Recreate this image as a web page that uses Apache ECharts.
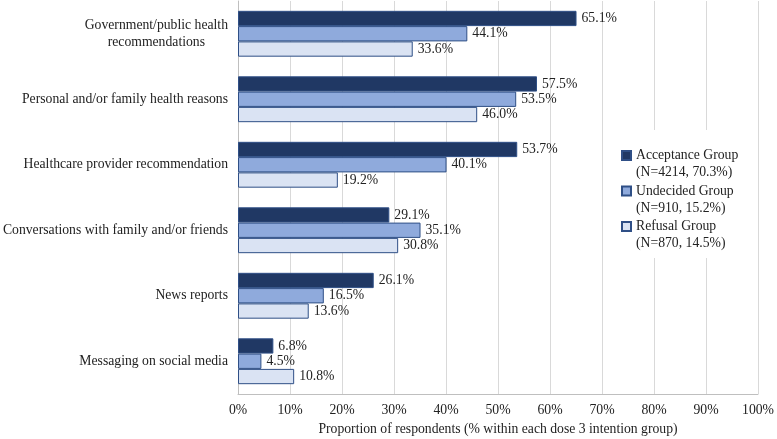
<!DOCTYPE html>
<html>
<head>
<meta charset="utf-8">
<script src="https://cdn.jsdelivr.net/npm/echarts@6/dist/echarts.min.js"></script>
<style>
html,body{margin:0;padding:0;background:#fff;}
#chart{width:777px;height:439px;}
</style>
</head>
<body>
<div id="chart"></div>
<script>
const categories = [
  'Government/public health\nrecommendations',
  'Personal and/or family health reasons',
  'Healthcare provider recommendation',
  'Conversations with family and/or friends',
  'News reports',
  'Messaging on social media'
];
const seriesNames = [
  'Acceptance Group\n(N=4214, 70.3%)',
  'Undecided Group\n(N=910, 15.2%)',
  'Refusal Group\n(N=870, 14.5%)'
];
const acceptance = [65.1, 57.5, 53.7, 29.1, 26.1, 6.8];
const undecided  = [44.1, 53.5, 40.1, 35.1, 16.5, 4.5];
const refusal    = [33.6, 46.0, 19.2, 30.8, 13.6, 10.8];
const xTicks = [0, 10, 20, 30, 40, 50, 60, 70, 80, 90, 100];
const xTitle = 'Proportion of respondents (% within each dose 3 intention group)';

const FONT = 'Liberation Serif, Times New Roman, serif';
const FS = 13.7;
const colors = ['#203864', '#8faadc', '#dae3f3'];
const values = [acceptance, undecided, refusal];

const chart = echarts.init(document.getElementById('chart'), null, {renderer: 'canvas'});
chart.setOption({
  animation: false,
  backgroundColor: '#fff',
  grid: {left: 238, right: 19, top: 1, bottom: 45, containLabel: false, outerBoundsMode: 'none'},
  legend: {
    orient: 'vertical',
    left: 613,
    top: 130,
    backgroundColor: '#fff',
    padding: [0, 4, 6, 8],
    itemWidth: 9,
    itemHeight: 9,
    itemGap: -15.5,
    icon: 'rect',
    formatter: function (name) { return ' \n' + name; },
    textStyle: {fontFamily: FONT, fontSize: FS, color: '#222', lineHeight: 17},
    data: seriesNames
  },
  xAxis: {
    type: 'value',
    min: xTicks[0],
    max: xTicks[xTicks.length - 1],
    interval: xTicks[1] - xTicks[0],
    axisLine: {show: true, lineStyle: {color: '#bfbfbf', width: 1}},
    axisTick: {show: false},
    splitLine: {show: true, lineStyle: {color: '#d9d9d9', width: 1}},
    axisLabel: {formatter: '{value}%', fontFamily: FONT, fontSize: FS, color: '#222', margin: 9},
    name: xTitle,
    nameLocation: 'middle',
    nameGap: 27,
    nameTextStyle: {fontFamily: FONT, fontSize: FS, color: '#222'}
  },
  yAxis: {
    type: 'category',
    inverse: true,
    data: categories,
    axisLine: {show: true, lineStyle: {color: '#bfbfbf', width: 1}},
    axisTick: {show: false},
    axisLabel: {
      margin: 10,
      color: '#222',
      fontFamily: FONT,
      fontSize: FS,
      lineHeight: 17,
      formatter: function (v) {
        return v.split('\n').map(function (l) { return '{c|' + l + '}'; }).join('\n');
      },
      rich: {c: {align: 'center', fontFamily: FONT, fontSize: FS, lineHeight: 17, color: '#222'}}
    }
  },
  series: seriesNames.map(function (name, i) {
    return {
      name: name,
      type: 'bar',
      data: values[i],
      barGap: '0%',
      barCategoryGap: '30%',
      itemStyle: {color: colors[i], borderColor: '#2f4f86', borderWidth: 1},
      label: {
        show: true,
        position: 'right',
        distance: 5,
        fontFamily: FONT,
        fontSize: FS,
        color: '#222',
        formatter: function (p) { return p.value.toFixed(1) + '%'; }
      }
    };
  })
});
</script>
</body>
</html>
